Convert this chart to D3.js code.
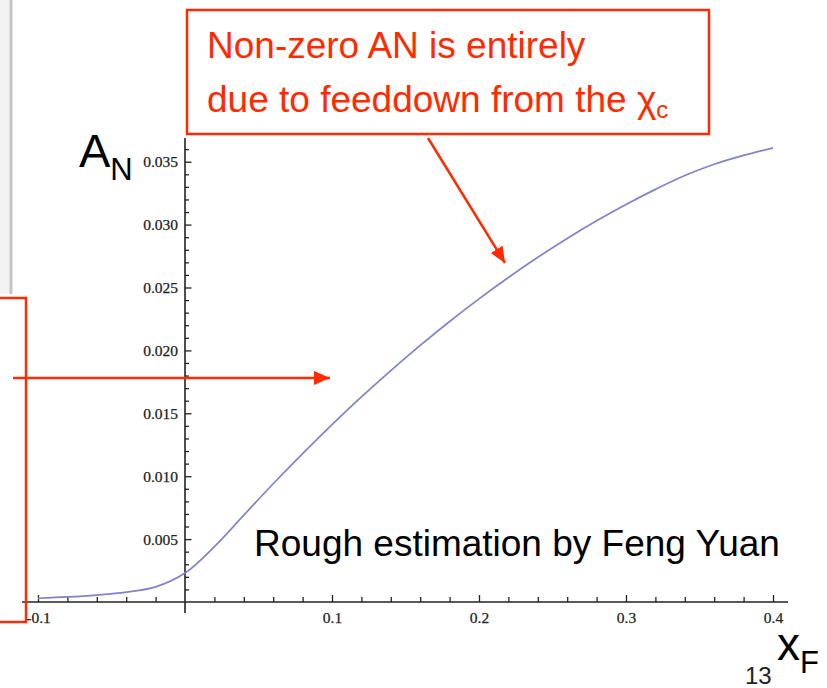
<!DOCTYPE html>
<html>
<head>
<meta charset="utf-8">
<script src="https://cdn.jsdelivr.net/npm/d3@7"></script>
<style>
  body { margin: 0; background: #fff; }
  svg { display: block; }
</style>
</head>
<body>
<script>
// A_N vs x_F
var xF = [-0.1, -0.08, -0.06, -0.04, -0.02, 0, 0.02, 0.04, 0.06, 0.08, 0.10, 0.12, 0.14,
          0.16, 0.18, 0.20, 0.22, 0.24, 0.26, 0.28, 0.30, 0.32, 0.34, 0.36, 0.38, 0.40];
var AN = [0.0003, 0.0004, 0.00055, 0.00078, 0.0012, 0.0023, 0.0044, 0.0069, 0.0094, 0.0118,
          0.0141, 0.0163, 0.0184, 0.0204, 0.0223, 0.0241, 0.0258, 0.0274, 0.0289, 0.0303,
          0.0316, 0.0328, 0.0339, 0.0348, 0.0355, 0.0361];

var xTicks = [-0.1, 0.1, 0.2, 0.3, 0.4];
var xTickLabels = ['-0.1', '0.1', '0.2', '0.3', '0.4'];
var yTicks = [0.005, 0.010, 0.015, 0.020, 0.025, 0.030, 0.035];
var yTickLabels = ['0.005', '0.010', '0.015', '0.020', '0.025', '0.030', '0.035'];

var width = 827, height = 688;
var red = '#ff2a00';

var svg = d3.select('body').append('svg')
  .attr('width', width)
  .attr('height', height);

var x = d3.scaleLinear().domain([-0.1, 0.4]).range([38, 773]);
var y = d3.scaleLinear().domain([0, 0.035]).range([602, 161.7]);

// gray strip at the left edge (slide leftovers)
svg.append('rect').attr('x', 0).attr('y', 0).attr('width', 10).attr('height', 294)
  .attr('fill', '#f3f3f3');
svg.append('line').attr('x1', 11).attr('x2', 11).attr('y1', 0).attr('y2', 294)
  .attr('stroke', '#c6c6c6').attr('stroke-width', 3);

var arrowDefs = svg.append('defs');
arrowDefs.append('marker')
  .attr('id', 'head')
  .attr('markerUnits', 'userSpaceOnUse')
  .attr('viewBox', '0 0 16 16')
  .attr('refX', 16).attr('refY', 8)
  .attr('markerWidth', 16).attr('markerHeight', 16)
  .attr('orient', 'auto')
  .append('path')
  .attr('d', 'M0,1 L16,8 L0,15 Z')
  .attr('fill', red);

// minor ticks
var xMinor = d3.range(-0.1, 0.4001, 0.02).map(function(d) { return +d.toFixed(2); })
  .filter(function(d) { return xTicks.indexOf(d) < 0 && d !== 0; });
var yMinor = d3.range(0.001, 0.0365, 0.001).map(function(d) { return +d.toFixed(3); })
  .filter(function(d) { return yTicks.indexOf(d) < 0; });

var axes = svg.append('g').attr('class', 'axes');

axes.append('g')
  .attr('transform', 'translate(0,' + y(0) + ')')
  .call(d3.axisBottom(x).tickValues(xMinor).tickSize(-5).tickFormat(''));

axes.append('g')
  .attr('class', 'xaxis')
  .attr('transform', 'translate(0,' + y(0) + ')')
  .call(d3.axisBottom(x).tickValues(xTicks).tickSizeInner(-7).tickSizeOuter(0).tickPadding(10)
    .tickFormat(function(d, i) { return xTickLabels[i]; }));

axes.append('g')
  .attr('transform', 'translate(' + x(0) + ',0)')
  .call(d3.axisLeft(y).tickValues(yMinor).tickSize(-4).tickFormat(''));

axes.append('g')
  .attr('class', 'yaxis')
  .attr('transform', 'translate(' + x(0) + ',0)')
  .call(d3.axisLeft(y).tickValues(yTicks).tickSizeInner(-6.5).tickSizeOuter(0).tickPadding(7)
    .tickFormat(function(d, i) { return yTickLabels[i]; }));

axes.selectAll('.domain').remove();
axes.selectAll('.tick line').attr('stroke', '#222').attr('stroke-width', 1.3);
axes.selectAll('.tick text')
  .attr('fill', '#222')
  .attr('stroke', '#222').attr('stroke-width', 0.25)
  .style('font-family', '"Liberation Serif", "DejaVu Serif", serif')
  .style('font-size', '15.5px');

// axis lines, extended past the tick range like the original
axes.append('line')
  .attr('x1', 22).attr('x2', 788).attr('y1', y(0)).attr('y2', y(0))
  .attr('stroke', '#222').attr('stroke-width', 1.6);
axes.append('line')
  .attr('x1', x(0)).attr('x2', x(0)).attr('y1', 138).attr('y2', 613)
  .attr('stroke', '#222').attr('stroke-width', 1.6);

// curve
var line = d3.line()
  .x(function(d, i) { return x(xF[i]); })
  .y(function(d) { return y(d); })
  .curve(d3.curveCatmullRom.alpha(0.5));

svg.append('path')
  .datum(AN)
  .attr('d', line)
  .attr('fill', 'none')
  .attr('stroke', '#8282c6')
  .attr('stroke-width', 1.7);

// axis titles
var sans = '"Liberation Sans", Arial, sans-serif';
var aLabel = svg.append('text').attr('x', 79).attr('y', 167)
  .style('font-family', sans).attr('fill', '#000');
aLabel.append('tspan').style('font-size', '47px').text('A');
aLabel.append('tspan').style('font-size', '31px').attr('dy', 13).text('N');

var xLabel = svg.append('text').attr('x', 777).attr('y', 660)
  .style('font-family', sans).attr('fill', '#000');
xLabel.append('tspan').style('font-size', '46px').text('x');
xLabel.append('tspan').style('font-size', '31px').attr('dy', 13).text('F');

svg.append('text').attr('x', 745).attr('y', 684)
  .style('font-family', sans).style('font-size', '24px').attr('fill', '#222')
  .text('13');

// annotation box at the top
svg.append('rect')
  .attr('x', 187).attr('y', 10).attr('width', 522).attr('height', 124)
  .attr('fill', 'none').attr('stroke', red).attr('stroke-width', 2.5);

svg.append('text').attr('x', 207).attr('y', 58)
  .style('font-family', sans).style('font-size', '37px').attr('fill', red)
  .text('Non-zero AN is entirely');

var line2 = svg.append('text').attr('x', 207).attr('y', 112)
  .style('font-family', sans).style('font-size', '37px').attr('fill', red);
line2.append('tspan').text('due to feeddown from the χ');
line2.append('tspan').style('font-size', '24px').attr('dy', 6).text('c');

svg.append('line')
  .attr('x1', 428).attr('y1', 138).attr('x2', 505).attr('y2', 263)
  .attr('stroke', red).attr('stroke-width', 2.5)
  .attr('marker-end', 'url(#head)');

// left box (cut by the frame) and its arrow
svg.append('rect')
  .attr('x', -10).attr('y', 298).attr('width', 36).attr('height', 324)
  .attr('fill', 'none').attr('stroke', red).attr('stroke-width', 2.5);

svg.append('line')
  .attr('x1', 13).attr('y1', 378).attr('x2', 330).attr('y2', 378)
  .attr('stroke', red).attr('stroke-width', 2.5)
  .attr('marker-end', 'url(#head)');

svg.append('text').attr('x', 254).attr('y', 556)
  .style('font-family', sans).style('font-size', '37px').attr('fill', '#000')
  .text('Rough estimation by Feng Yuan');
</script>
</body>
</html>
